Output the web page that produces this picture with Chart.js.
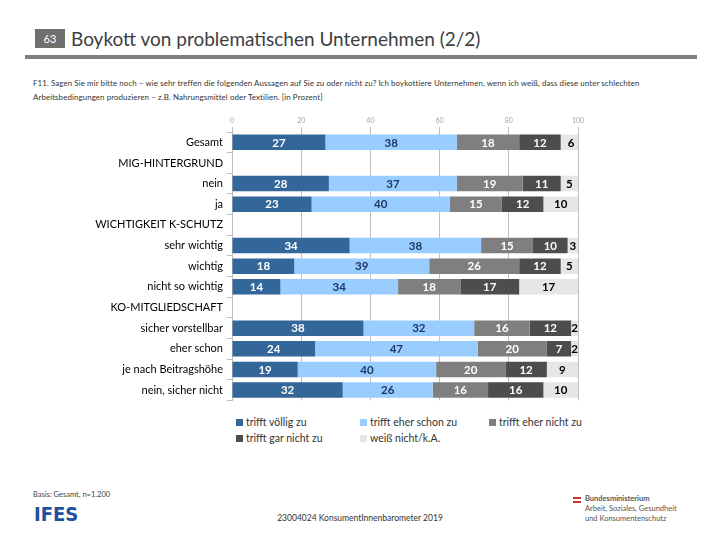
<!DOCTYPE html>
<html lang="de">
<head>
<meta charset="utf-8">
<script src="https://cdn.jsdelivr.net/npm/chart.js@4/dist/chart.umd.min.js"></script>
<style>
  body { margin: 0; width: 720px; height: 540px; background: #fff; position: relative; overflow: hidden; font-family: Lato, "Open Sans", sans-serif; }
  .abs { position: absolute; }
  #nr { left: 35px; top: 29px; width: 30px; height: 19px; background: #6f6f6f; color: #fff; font-size: 11px; line-height: 19px; text-align: center; }
  #title { left: 71px; top: 27px; font-size: 19px; color: #404040; white-space: nowrap; }
  #bar { left: 25px; top: 55px; width: 672px; height: 4px; background: #808080; }
  #frage { left: 33px; top: 76px; width: 662px; font-size: 7.9px; letter-spacing: 0.1px; line-height: 14px; color: #333; }
  #chartBox { left: 0; top: 110px; }
  #legend { left: 236px; top: 416px; width: 360px; font-size: 10.5px; color: #333; display: grid; grid-template-columns: 124px 129px 110px; row-gap: 4px; }
  #legend span.sq { display: inline-block; width: 7px; height: 7px; margin-right: 3px; vertical-align: 0px; }
  #basis { left: 33px; top: 490px; font-size: 7.5px; color: #444; }
  #ifes { left: 34px; top: 502px; font-size: 20px; font-weight: 900; color: #1f4f9e; letter-spacing: 0px; font-family: "DejaVu Sans Condensed", "Liberation Sans Narrow", sans-serif; }
  #projekt { left: 0; width: 720px; top: 513px; text-align: center; font-size: 8.5px; color: #333; }
  #flag { left: 573px; top: 497px; width: 8px; height: 6px; background: linear-gradient(#d42e2e 0 33%, #fff 33% 66%, #d42e2e 66%); }
  #bm { left: 585px; top: 494px; font-size: 7.5px; line-height: 10px; color: #555; }
</style>
</head>
<body>
<div class="abs" id="nr">63</div>
<div class="abs" id="title">Boykott von problematischen Unternehmen (2/2)</div>
<div class="abs" id="bar"></div>
<div class="abs" id="frage">F11. Sagen Sie mir bitte noch – wie sehr treffen die folgenden Aussagen auf Sie zu oder nicht zu? Ich boykottiere Unternehmen, wenn ich weiß, dass diese unter schlechten Arbeitsbedingungen produzieren – z.B. Nahrungsmittel oder Textilien. [in Prozent]</div>
<div class="abs" id="chartBox"><canvas id="chart" width="590" height="301"></canvas></div>
<div class="abs" id="legend"></div>
<div class="abs" id="basis">Basis: Gesamt, n=1.200</div>
<div class="abs" id="ifes">IFES</div>
<div class="abs" id="projekt">23004024 KonsumentInnenbarometer 2019</div>
<div class="abs" id="flag"></div>
<div class="abs" id="bm"><b>Bundesministerium</b><br>Arbeit, Soziales, Gesundheit<br>und Konsumentenschutz</div>

<script>
// Daten
const categories = ['Gesamt', 'MIG-HINTERGRUND', 'nein', 'ja', 'WICHTIGKEIT K-SCHUTZ', 'sehr wichtig', 'wichtig', 'nicht so wichtig', 'KO-MITGLIEDSCHAFT', 'sicher vorstellbar', 'eher schon', 'je nach Beitragshöhe', 'nein, sicher nicht'];
const seriesNames = ['trifft völlig zu', 'trifft eher schon zu', 'trifft eher nicht zu', 'trifft gar nicht zu', 'weiß nicht/k.A.'];
const voellig = [27, null, 28, 23, null, 34, 18, 14, null, 38, 24, 19, 32];
const eherSchon = [38, null, 37, 40, null, 38, 39, 34, null, 32, 47, 40, 26];
const eherNicht = [18, null, 19, 15, null, 15, 26, 18, null, 16, 20, 20, 16];
const garNicht = [12, null, 11, 12, null, 10, 12, 17, null, 12, 7, 12, 16];
const weissNicht = [6, null, 5, 10, null, 3, 5, 17, null, 2, 2, 9, 10];
const xTicks = [0, 20, 40, 60, 80, 100];

const colors = ['#336699', '#99ccff', '#7f7f7f', '#4d4d4d', '#e6e6e6'];
const labelColors = ['#ffffff', '#1f3864', '#ffffff', '#ffffff', '#000000'];
const values = [voellig, eherSchon, eherNicht, garNicht, weissNicht];

// Legende (HTML, dreispaltig wie im Original)
const legend = document.getElementById('legend');
seriesNames.forEach((name, i) => {
    const div = document.createElement('div');
    div.innerHTML = '<span class="sq" style="background:' + colors[i] + '"></span>' + name;
    legend.appendChild(div);
});

// Werte in die Balken schreiben
const valueLabels = {
    id: 'valueLabels',
    afterDatasetsDraw(chart) {
        const ctx = chart.ctx;
        ctx.save();
        ctx.font = 'bold 11.5px Lato, sans-serif';
        ctx.textAlign = 'center';
        ctx.textBaseline = 'middle';
        chart.data.datasets.forEach((ds, i) => {
            const meta = chart.getDatasetMeta(i);
            meta.data.forEach((bar, j) => {
                const v = ds.data[j];
                if (v === null || v === undefined) return;
                ctx.fillStyle = labelColors[i];
                ctx.fillText(String(v), (bar.x + bar.base) / 2, bar.y + 0.5);
            });
        });
        ctx.restore();
    }
};

const ctx = document.getElementById('chart').getContext('2d');
new Chart(ctx, {
    type: 'bar',
    data: {
        labels: categories,
        datasets: values.map((data, i) => ({
            label: seriesNames[i],
            data: data,
            backgroundColor: colors[i],
            borderWidth: 0,
            barPercentage: 0.75,
            categoryPercentage: 1
        }))
    },
    options: {
        indexAxis: 'y',
        responsive: false,
        animation: false,
        layout: { padding: { right: 12, top: 0, bottom: 0, left: 0 } },
        plugins: {
            legend: { display: false },
            tooltip: { enabled: false }
        },
        scales: {
            x: {
                position: 'top',
                stacked: true,
                min: 0,
                max: 100,
                afterBuildTicks: function(scale) {
                    scale.ticks = xTicks.map(v => ({ value: v }));
                },
                afterFit: function(scale) { scale.height = 22; },
                ticks: { color: '#a6a6a6', font: { size: 7, family: 'Lato' }, padding: 2 },
                grid: { color: '#bfbfbf', tickLength: 5 },
                border: { display: false }
            },
            y: {
                stacked: true,
                afterFit: function(scale) { scale.width = 232; },
                ticks: { color: '#000', font: { size: 11, family: 'Lato' }, padding: 4 },
                grid: { drawOnChartArea: false, color: '#bfbfbf', tickLength: 5 },
                border: { color: '#bfbfbf' }
            }
        }
    },
    plugins: [valueLabels]
});
</script>
</body>
</html>
